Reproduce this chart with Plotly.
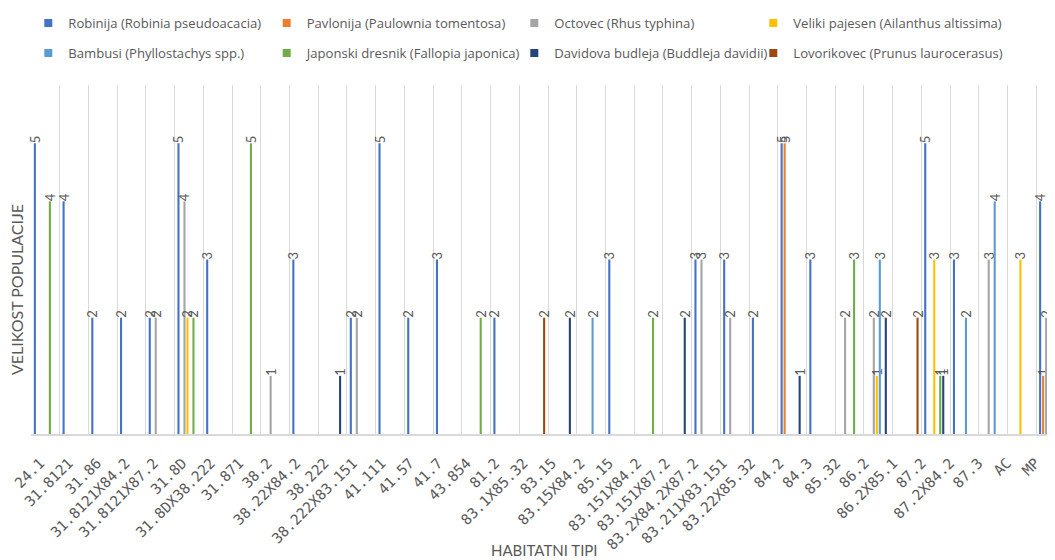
import plotly.graph_objects as go

categories = ["24.1", "31.8121", "31.86", "31.8121X84.2", "31.8121X87.2", "31.8D",
              "31.8DX38.222", "31.871", "38.2", "38.22X84.2", "38.222", "38.222X83.151",
              "41.111", "41.57", "41.7", "43.854", "81.2", "83.1X85.32", "83.15",
              "83.15X84.2", "85.15", "83.151X84.2", "83.151X87.2", "83.2X84.2X87.2",
              "83.211X83.151", "83.22X85.32", "84.2", "84.3", "85.32", "86.2",
              "86.2X85.1", "87.2", "87.2X84.2", "87.3", "AC", "MP"]

N = None
robinija    = [5, 4, 2, 2, 2, 5, 3, N, N, 3, N, 2, 5, 2, 3, N, 2, N, N, N, 3, N, N, 3, 3, 2, 5, 3, N, N, N, 5, 3, N, N, 4]
pavlonija   = [N, N, N, N, N, N, N, N, N, N, N, N, N, N, N, N, N, N, N, N, N, N, N, N, N, N, 5, N, N, N, N, N, N, N, N, 1]
octovec     = [N, N, N, N, 2, 4, N, N, 1, N, N, 2, N, N, N, N, N, N, N, N, N, N, N, 3, 2, N, N, N, 2, 2, N, N, N, 3, N, 2]
veliki      = [N, N, N, N, N, 2, N, N, N, N, N, N, N, N, N, N, N, N, N, N, N, N, N, N, N, N, N, N, N, 1, N, 3, N, N, 3, N]
bambusi     = [N, N, N, N, N, N, N, N, N, N, N, N, N, N, N, N, N, N, N, 2, N, N, N, N, N, N, N, N, N, 3, N, N, 2, 4, N, N]
japonski    = [4, N, N, N, N, 2, N, 5, N, N, N, N, N, N, N, 2, N, N, N, N, N, 2, N, N, N, N, N, N, 3, N, N, 1, N, N, N, N]
davidova    = [N, N, N, N, N, N, N, N, N, N, 1, N, N, N, N, N, N, N, 2, N, N, N, 2, N, N, N, 1, N, N, 2, N, 1, N, N, N, N]
lovorikovec = [N, N, N, N, N, N, N, N, N, N, N, N, N, N, N, N, N, 2, N, N, N, N, N, N, N, N, N, N, N, N, 2, N, N, N, N, N]

series_names = ["Robinija (Robinia pseudoacacia)", "Pavlonija (Paulownia tomentosa)",
                "Octovec (Rhus typhina)", "Veliki pajesen (Ailanthus altissima)",
                "Bambusi (Phyllostachys spp.)", "Japonski dresnik (Fallopia japonica)",
                "Davidova budleja (Buddleja davidii)", "Lovorikovec (Prunus laurocerasus)"]
series_values = [robinija, pavlonija, octovec, veliki, bambusi, japonski, davidova, lovorikovec]
colors = ["#4472C4", "#ED7D31", "#A5A5A5", "#FFC000", "#5B9BD5", "#70AD47", "#264478", "#9E480E"]

x_title = "HABITATNI TIPI"
y_title = "VELIKOST POPULACIJE"

# The page body has an 8px margin; layout positions below are in figure pixels.
OFF = 8
W, H = 1063, 560
L = 30.7 - OFF            # plot left edge
PR = 1064.6 - OFF         # plot right edge (beyond the visible window, as in the reference)
T = 85 - OFF              # plot top
BASE = 434.5 - OFF        # plot bottom (baseline)
R, B = W - PR, H - BASE
PW, PH = PR - L, BASE - T
LABEL_STEP = 28.43                 # tick labels sit on a slightly tighter pitch
LABEL_FIRST = 40 - OFF             # tick position of the first label
GREY = "#595959"


def px_x(ref_px):
    return (ref_px - OFF - L) / PW


def px_y(ref_py):
    return (BASE - (ref_py - OFF)) / PH


fig = go.Figure()
for name, vals, col in zip(series_names, series_values, colors):
    fig.add_trace(go.Bar(
        x=categories, y=vals, name=name, marker_color=col, marker_line_width=0,
        text=["" if v is None else str(v) for v in vals],
        textposition="outside", textangle=-90, constraintext="none",
        textfont=dict(family="Lato", size=13, color=GREY),
        cliponaxis=False, showlegend=False, hoverinfo="x+y+name"))

# invisible carrier of the category tick labels
fig.add_trace(go.Scatter(x=categories, y=[None] * len(categories), xaxis="x2",
                         mode="markers", showlegend=False, hoverinfo="skip"))

# legend entries (4 columns x 2 rows)
text_starts = [68.3, 306.7, 554.3, 793.3]
for i, (name, col) in enumerate(zip(series_names, colors)):
    column = i % 4
    fig.add_trace(go.Scatter(
        x=[None], y=[None], mode="markers", name=name,
        marker=dict(symbol="square", size=8, color=col),
        legend="legend" if column == 0 else f"legend{column + 1}",
        legendgroup=f"g{i}", showlegend=True))

legend_common = dict(orientation="v", xref="container", yref="container",
                     xanchor="left", yanchor="top", bgcolor="rgba(0,0,0,0)",
                     font=dict(family="Open Sans", size=13.1, color=GREY),
                     tracegroupgap=10, itemclick=False, itemdoubleclick=False)
legends = {}
for column in range(4):
    key = "legend" if column == 0 else f"legend{column + 1}"
    legends[key] = dict(legend_common, x=(text_starts[column] - OFF - 40) / W,
                        y=1 + 3 / H)

r0 = -(LABEL_FIRST - L) / LABEL_STEP
fig.update_layout(
    width=W, height=H, margin=dict(l=L, r=R, t=T, b=B, autoexpand=False),
    paper_bgcolor="white", plot_bgcolor="white",
    barmode="group", bargap=0.164, bargroupgap=0.3,
    font=dict(family="Lato", color=GREY),
    xaxis=dict(type="category", categoryorder="array", categoryarray=categories,
               range=[-0.5, len(categories) - 0.5], tickson="boundaries",
               showgrid=True, gridcolor="#D9D9D9", gridwidth=1.3,
               ticks="", showticklabels=False,
               showline=True, linecolor="#D9D9D9", linewidth=2,
               automargin=False, zeroline=False, fixedrange=True),
    xaxis2=dict(type="category", categoryorder="array", categoryarray=categories,
                overlaying="x", anchor="y", side="bottom",
                range=[r0, r0 + PW / LABEL_STEP], showgrid=False, showline=False,
                zeroline=False, ticks="outside", ticklen=14, tickcolor="rgba(0,0,0,0)",
                tickangle=-45, tickfont=dict(family="DejaVu Sans Mono", size=14.5, color=GREY),
                automargin=False, fixedrange=True),
    yaxis=dict(range=[0, 6], showgrid=False, showticklabels=False, zeroline=False,
               showline=False, ticks="", automargin=False, fixedrange=True),
    annotations=[
        dict(text=y_title, xref="paper", yref="paper", x=px_x(16), y=px_y(290),
             xanchor="center", yanchor="middle", textangle=-90, showarrow=False,
             font=dict(family="Lato", size=16, color=GREY)),
        dict(text=x_title, xref="paper", yref="paper", x=px_x(544), y=px_y(551),
             xanchor="center", yanchor="middle", showarrow=False,
             font=dict(family="Lato", size=15, color=GREY)),
    ],
    **legends,
)

fig.write_html("out.html")
